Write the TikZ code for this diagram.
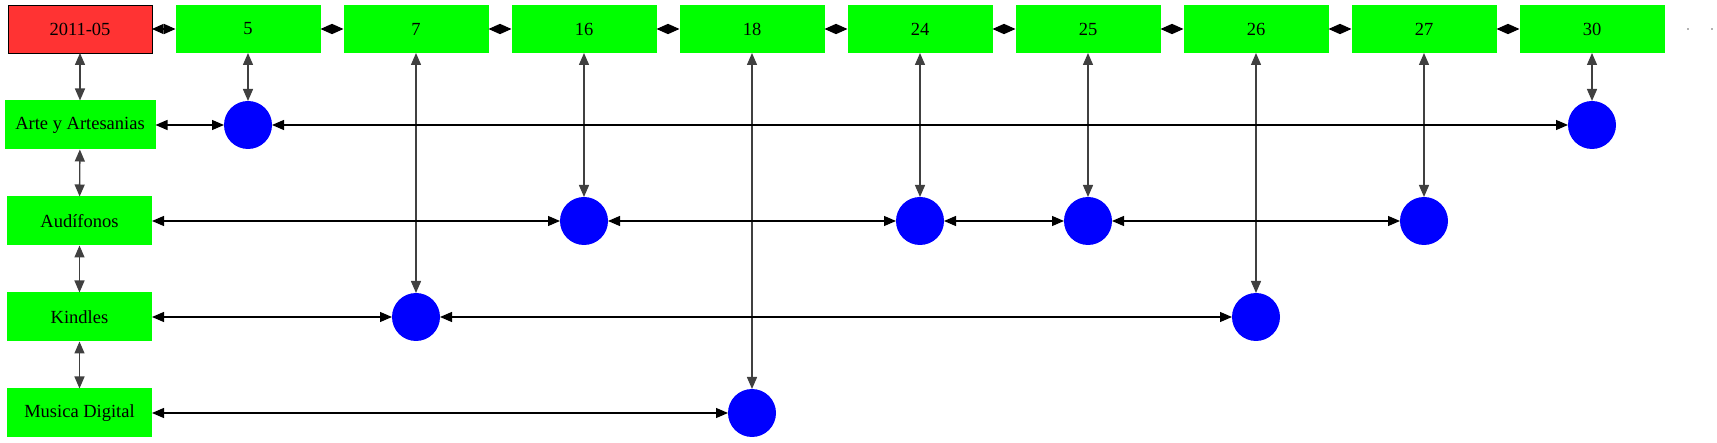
\documentclass[tikz,border=0pt]{standalone}
\usepackage{fontspec}
\setmainfont{Liberation Serif}
\usetikzlibrary{arrows.meta}
\definecolor{boxgreen}{HTML}{00FF00}
\definecolor{boxred}{HTML}{FF3333}
\definecolor{dotblue}{HTML}{0000FF}
\begin{document}
\begin{tikzpicture}[x=1pt,y=-1pt,
  every node/.style={inner sep=0pt,outer sep=0pt,font=\fontsize{18.5}{20}\selectfont},
  monthbox/.style={rectangle,fill=boxgreen,minimum width=145pt,minimum height=48pt},
  rootbox/.style={rectangle,fill=boxred,draw=black,line width=0.8pt,minimum width=144pt,minimum height=48pt},
  catbox/.style={rectangle,fill=boxgreen,minimum width=145pt,minimum height=49pt},
  dot/.style={circle,fill=dotblue,minimum size=48pt},
  link/.style={line width=1.2pt,draw=black,{Triangle[length=12pt,width=10pt]}-{Triangle[length=12pt,width=10pt]}},
  toplink/.style={link,{Triangle[length=11.5pt,width=10pt]}-{Triangle[length=11.5pt,width=10pt]}},
  vlink/.style={link,draw=black!75,line width=1.4pt},
]
\useasboundingbox (0,0) rectangle (1717,443);
% top row
\node[rootbox] (root) at (80,29) {2011-05};
\node[monthbox] (m5) at (248,29) {5};
\node[monthbox] (m7) at (416,29) {7};
\node[monthbox] (m16) at (584,29) {16};
\node[monthbox] (m18) at (752,29) {18};
\node[monthbox] (m24) at (920,29) {24};
\node[monthbox] (m25) at (1088,29) {25};
\node[monthbox] (m26) at (1256,29) {26};
\node[monthbox] (m27) at (1424,29) {27};
\node[monthbox] (m30) at (1592,29) {30};
\fill[black!60] (1688,29) circle (0.8) coordinate (e1);
\fill[black!60] (1712,29) circle (0.8) coordinate (e2);
% categories
\node[catbox,minimum width=151pt] (arte) at (80,125) {Arte y Artesanias};
\node[catbox] (aud) at (79.5,221) {Audífonos};
\node[catbox] (kin) at (79.5,317) {Kindles};
\node[catbox] (mus) at (79.5,413) {Musica Digital};
% dots
\node[dot] (a5) at (248,125) {};
\node[dot] (a30) at (1592,125) {};
\node[dot] (u16) at (584,221) {};
\node[dot] (u24) at (920,221) {};
\node[dot] (u25) at (1088,221) {};
\node[dot] (u27) at (1424,221) {};
\node[dot] (k7) at (416,317) {};
\node[dot] (k26) at (1256,317) {};
\node[dot] (d18) at (752,413) {};
% top chain
\draw[toplink] (root) -- (m5);
\draw[toplink] (m5) -- (m7);
\draw[toplink] (m7) -- (m16);
\draw[toplink] (m16) -- (m18);
\draw[toplink] (m18) -- (m24);
\draw[toplink] (m24) -- (m25);
\draw[toplink] (m25) -- (m26);
\draw[toplink] (m26) -- (m27);
\draw[toplink] (m27) -- (m30);
% left column
\draw[vlink] (root) -- (arte);
\draw[vlink] (arte) -- (aud);
\draw[vlink] (aud) -- (kin);
\draw[vlink] (kin) -- (mus);
% verticals month -> dot
\draw[vlink] (m5) -- (a5);
\draw[vlink] (m30) -- (a30);
\draw[vlink] (m16) -- (u16);
\draw[vlink] (m24) -- (u24);
\draw[vlink] (m25) -- (u25);
\draw[vlink] (m27) -- (u27);
\draw[vlink] (m7) -- (k7);
\draw[vlink] (m26) -- (k26);
\draw[vlink] (m18) -- (d18);
% rows
\draw[link] (arte) -- (a5);
\draw[link] (a5) -- (a30);
\draw[link] (aud) -- (u16);
\draw[link] (u16) -- (u24);
\draw[link] (u24) -- (u25);
\draw[link] (u25) -- (u27);
\draw[link] (kin) -- (k7);
\draw[link] (k7) -- (k26);
\draw[link] (mus) -- (d18);
\end{tikzpicture}
\end{document}
